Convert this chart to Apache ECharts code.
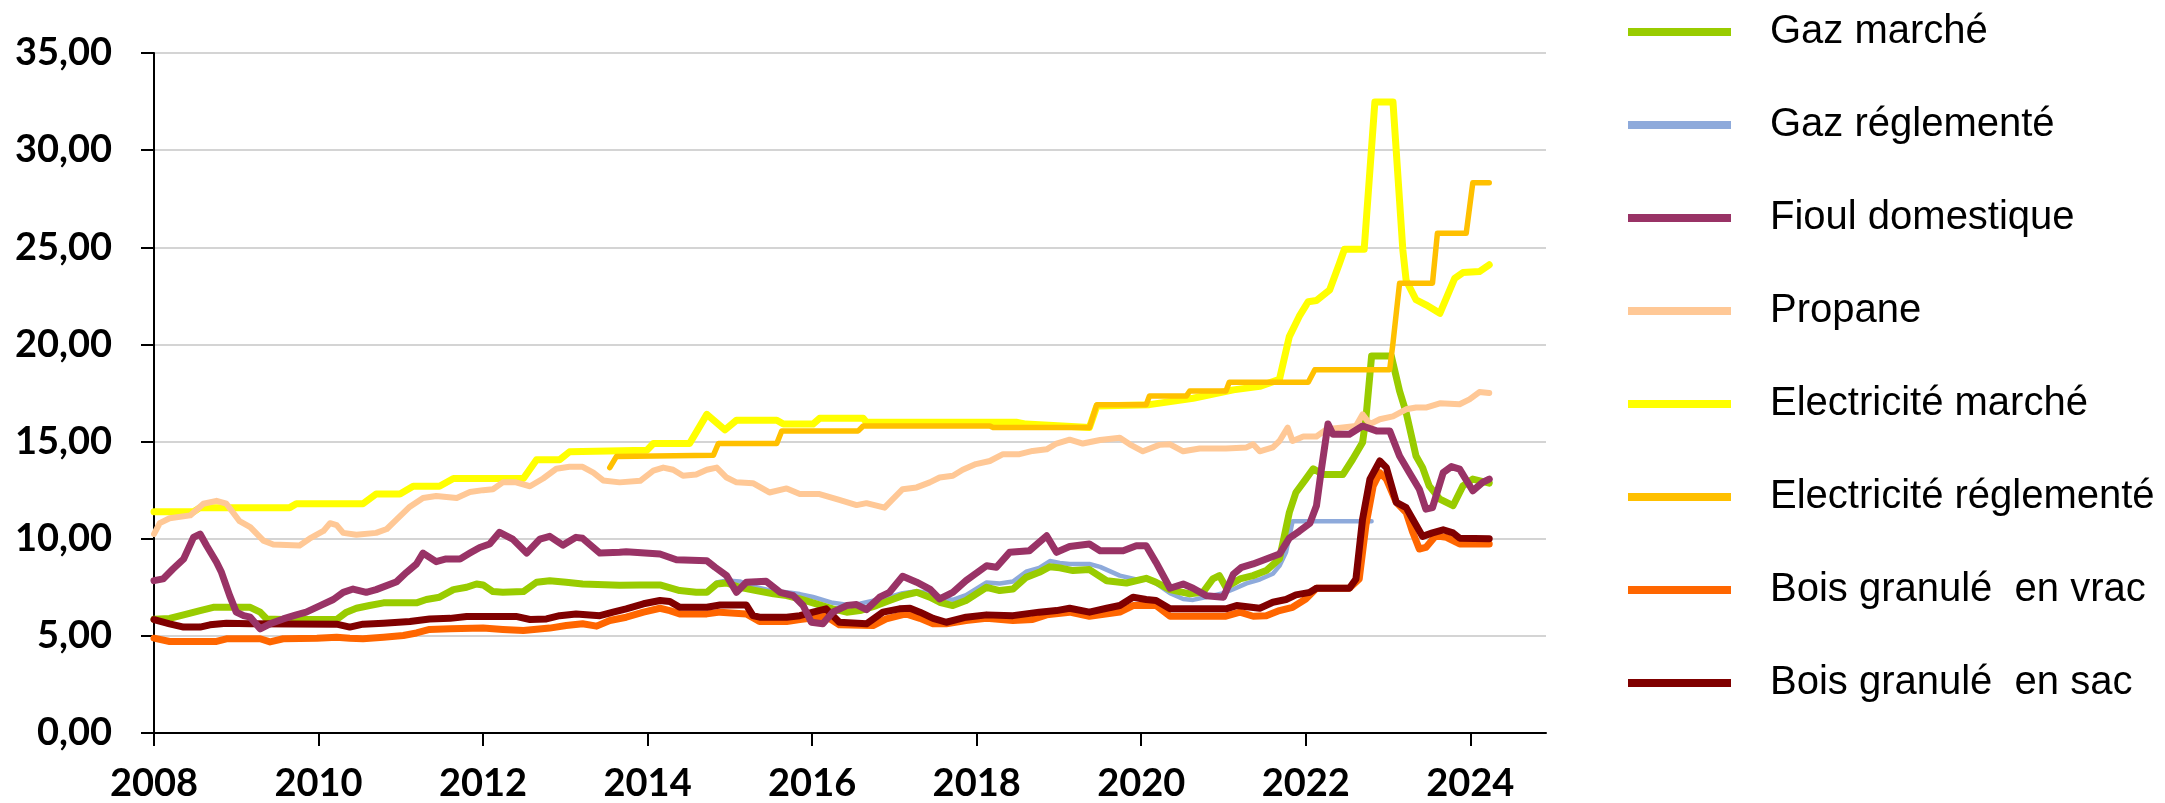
<!DOCTYPE html>
<html>
<head>
<meta charset="utf-8">
<script src="https://cdn.jsdelivr.net/npm/echarts@6/dist/echarts.min.js"></script>
<style>
  html, body { margin: 0; padding: 0; background: #fff; }
  #chart { width: 2165px; height: 803px; }
</style>
</head>
<body>
<div id="chart"></div>
<script>
// prix en fonction de la date (année décimale)
const yearTicks = [2008, 2010, 2012, 2014, 2016, 2018, 2020, 2022, 2024];

const gazMarche = [[2008.0,5.85],[2008.19,5.9],[2008.36,6.08],[2008.56,6.3],[2008.72,6.47],[2009.17,6.47],[2009.29,6.22],[2009.37,5.87],[2009.57,5.84],[2010.22,5.84],[2010.34,6.22],[2010.46,6.42],[2010.62,6.56],[2010.79,6.7],[2011.19,6.7],[2011.31,6.87],[2011.47,6.99],[2011.64,7.38],[2011.8,7.5],[2011.92,7.67],[2012.0,7.62],[2012.12,7.28],[2012.24,7.24],[2012.49,7.28],[2012.65,7.76],[2012.81,7.84],[2013.01,7.76],[2013.21,7.67],[2013.66,7.6],[2013.91,7.62],[2014.15,7.62],[2014.39,7.33],[2014.59,7.24],[2014.72,7.24],[2014.84,7.67],[2014.96,7.72],[2015.12,7.5],[2015.32,7.33],[2015.53,7.16],[2015.69,7.07],[2015.85,6.9],[2016.01,6.7],[2016.25,6.39],[2016.42,6.22],[2016.58,6.3],[2016.78,6.56],[2016.94,6.82],[2017.1,7.07],[2017.27,7.24],[2017.43,6.99],[2017.55,6.73],[2017.71,6.56],[2017.87,6.82],[2018.12,7.5],[2018.28,7.33],[2018.44,7.41],[2018.6,8.01],[2018.76,8.27],[2018.89,8.56],[2019.01,8.5],[2019.17,8.36],[2019.37,8.41],[2019.58,7.84],[2019.82,7.72],[2020.06,7.96],[2020.18,7.76],[2020.35,7.38],[2020.59,7.16],[2020.75,7.24],[2020.87,7.93],[2020.95,8.1],[2021.03,7.5],[2021.2,7.93],[2021.36,8.1],[2021.52,8.36],[2021.68,8.96],[2021.8,11.35],[2021.88,12.38],[2022.0,13.07],[2022.09,13.6],[2022.21,13.3],[2022.45,13.3],[2022.57,14.09],[2022.69,14.95],[2022.73,16.15],[2022.8,19.4],[2023.04,19.4],[2023.14,17.6],[2023.22,16.5],[2023.34,14.26],[2023.42,13.66],[2023.5,12.72],[2023.63,12.04],[2023.79,11.7],[2023.91,12.72],[2024.03,13.07],[2024.23,12.86]];

const gazReglemente = [[2008.0,5.85],[2008.19,5.9],[2008.36,6.08],[2008.56,6.3],[2008.72,6.47],[2009.17,6.47],[2009.29,6.22],[2009.37,5.87],[2009.57,5.84],[2010.22,5.84],[2010.34,6.22],[2010.46,6.42],[2010.62,6.56],[2010.79,6.7],[2011.19,6.7],[2011.31,6.87],[2011.47,6.99],[2011.64,7.38],[2011.8,7.5],[2011.92,7.67],[2012.0,7.62],[2012.12,7.28],[2012.24,7.24],[2012.49,7.28],[2012.65,7.76],[2012.81,7.84],[2013.01,7.78],[2013.21,7.7],[2013.66,7.62],[2013.91,7.62],[2014.15,7.6],[2014.39,7.35],[2014.59,7.25],[2014.72,7.3],[2014.84,7.75],[2014.96,7.85],[2015.12,7.8],[2015.32,7.5],[2015.53,7.3],[2015.69,7.25],[2015.85,7.15],[2016.01,7.0],[2016.25,6.7],[2016.42,6.6],[2016.58,6.65],[2016.78,6.85],[2016.94,7.0],[2017.1,7.2],[2017.27,7.3],[2017.43,7.2],[2017.55,7.0],[2017.71,6.85],[2017.87,7.1],[2018.12,7.75],[2018.28,7.7],[2018.44,7.8],[2018.6,8.3],[2018.76,8.5],[2018.89,8.85],[2019.01,8.75],[2019.13,8.7],[2019.37,8.7],[2019.5,8.55],[2019.74,8.1],[2019.94,7.9],[2020.06,7.95],[2020.18,7.7],[2020.35,7.2],[2020.51,6.9],[2020.63,6.85],[2020.79,7.0],[2021.0,7.2],[2021.12,7.4],[2021.28,7.7],[2021.44,7.9],[2021.6,8.2],[2021.68,8.6],[2021.76,9.3],[2021.84,10.9],[2022.8,10.9]];

const fioulDomestique = [[2008.0,7.84],[2008.11,7.93],[2008.23,8.44],[2008.36,8.96],[2008.48,10.07],[2008.56,10.24],[2008.64,9.64],[2008.76,8.79],[2008.82,8.27],[2008.92,7.07],[2009.0,6.22],[2009.09,6.04],[2009.17,5.96],[2009.29,5.36],[2009.41,5.62],[2009.57,5.87],[2009.73,6.08],[2009.85,6.22],[2010.02,6.56],[2010.18,6.87],[2010.3,7.24],[2010.42,7.41],[2010.58,7.24],[2010.7,7.38],[2010.95,7.79],[2011.07,8.27],[2011.19,8.7],[2011.27,9.26],[2011.43,8.82],[2011.55,8.96],[2011.72,8.96],[2011.84,9.26],[2011.96,9.55],[2012.08,9.73],[2012.2,10.33],[2012.36,9.98],[2012.53,9.26],[2012.69,9.98],[2012.81,10.12],[2012.97,9.67],[2013.13,10.07],[2013.21,10.02],[2013.42,9.26],[2013.66,9.3],[2013.74,9.33],[2014.15,9.21],[2014.35,8.92],[2014.72,8.87],[2014.82,8.53],[2014.96,8.1],[2015.08,7.24],[2015.2,7.76],[2015.44,7.81],[2015.61,7.24],[2015.77,7.07],[2015.89,6.56],[2015.99,5.7],[2016.13,5.62],[2016.25,6.22],[2016.42,6.56],[2016.54,6.61],[2016.66,6.35],[2016.82,6.99],[2016.94,7.24],[2017.1,8.07],[2017.27,7.76],[2017.43,7.41],[2017.55,6.9],[2017.71,7.24],[2017.87,7.84],[2018.12,8.61],[2018.24,8.53],[2018.4,9.3],[2018.64,9.38],[2018.85,10.15],[2018.97,9.3],[2019.13,9.6],[2019.37,9.73],[2019.5,9.38],[2019.78,9.38],[2019.94,9.64],[2020.06,9.64],[2020.18,8.78],[2020.35,7.45],[2020.51,7.67],[2020.63,7.45],[2020.79,7.07],[2021.0,6.99],[2021.12,8.18],[2021.22,8.53],[2021.36,8.7],[2021.52,8.96],[2021.68,9.21],[2021.8,10.03],[2021.92,10.38],[2022.05,10.8],[2022.13,11.7],[2022.19,13.58],[2022.27,15.9],[2022.33,15.38],[2022.53,15.38],[2022.69,15.8],[2022.86,15.55],[2023.02,15.55],[2023.14,14.26],[2023.26,13.4],[2023.38,12.55],[2023.46,11.52],[2023.54,11.6],[2023.67,13.4],[2023.77,13.71],[2023.87,13.58],[2024.03,12.47],[2024.15,12.9],[2024.23,13.07]];

const propane = [[2008.0,10.24],[2008.07,10.8],[2008.19,11.05],[2008.44,11.2],[2008.6,11.8],[2008.76,11.95],[2008.88,11.8],[2009.04,10.9],[2009.17,10.6],[2009.33,9.9],[2009.45,9.7],[2009.77,9.65],[2009.89,10.0],[2010.06,10.4],[2010.14,10.8],[2010.22,10.7],[2010.3,10.3],[2010.46,10.2],[2010.7,10.3],[2010.83,10.5],[2010.95,11.0],[2011.11,11.65],[2011.27,12.1],[2011.43,12.2],[2011.68,12.1],[2011.84,12.4],[2012.0,12.5],[2012.12,12.55],[2012.24,12.9],[2012.4,12.9],[2012.57,12.7],[2012.73,13.1],[2012.89,13.6],[2013.05,13.7],[2013.21,13.7],[2013.34,13.4],[2013.46,13.0],[2013.66,12.9],[2013.91,12.98],[2014.07,13.5],[2014.19,13.66],[2014.31,13.55],[2014.43,13.24],[2014.59,13.3],[2014.72,13.55],[2014.84,13.66],[2014.96,13.15],[2015.08,12.9],[2015.28,12.86],[2015.48,12.38],[2015.69,12.59],[2015.85,12.3],[2016.09,12.3],[2016.33,12.0],[2016.54,11.73],[2016.66,11.83],[2016.88,11.6],[2016.98,12.04],[2017.1,12.55],[2017.27,12.64],[2017.43,12.9],[2017.55,13.15],[2017.71,13.24],[2017.83,13.55],[2017.99,13.84],[2018.16,14.0],[2018.32,14.35],[2018.52,14.35],[2018.68,14.52],[2018.85,14.6],[2018.97,14.9],[2019.13,15.1],[2019.29,14.9],[2019.5,15.08],[2019.74,15.2],[2019.86,14.86],[2020.02,14.5],[2020.22,14.83],[2020.35,14.86],[2020.51,14.5],[2020.71,14.64],[2021.03,14.64],[2021.28,14.7],[2021.36,14.86],[2021.44,14.5],[2021.6,14.7],[2021.68,15.03],[2021.78,15.72],[2021.84,15.03],[2021.97,15.26],[2022.13,15.26],[2022.25,15.63],[2022.45,15.72],[2022.61,15.8],[2022.69,16.4],[2022.78,15.9],[2022.9,16.15],[2023.06,16.3],[2023.22,16.66],[2023.34,16.75],[2023.46,16.75],[2023.63,16.97],[2023.87,16.92],[2023.99,17.17],[2024.11,17.55],[2024.23,17.5]];

const elecMarche = [[2008.0,11.39],[2008.48,11.39],[2008.56,11.6],[2009.65,11.6],[2009.73,11.8],[2010.54,11.8],[2010.7,12.3],[2010.99,12.3],[2011.15,12.7],[2011.47,12.7],[2011.64,13.1],[2012.49,13.1],[2012.65,14.06],[2012.93,14.06],[2013.05,14.47],[2013.99,14.55],[2014.07,14.9],[2014.51,14.9],[2014.72,16.4],[2014.94,15.6],[2015.08,16.1],[2015.57,16.1],[2015.65,15.9],[2016.01,15.9],[2016.09,16.2],[2016.62,16.2],[2016.66,16.0],[2018.48,16.0],[2018.6,15.9],[2019.37,15.72],[2019.46,16.83],[2020.1,16.9],[2020.63,17.23],[2021.12,17.66],[2021.44,17.84],[2021.68,18.2],[2021.8,20.4],[2021.92,21.44],[2022.03,22.2],[2022.13,22.26],[2022.29,22.8],[2022.41,24.18],[2022.47,24.9],[2022.71,24.9],[2022.84,32.48],[2023.06,32.48],[2023.18,24.86],[2023.22,23.3],[2023.34,22.3],[2023.46,22.04],[2023.63,21.6],[2023.81,23.4],[2023.91,23.7],[2024.11,23.75],[2024.23,24.1]];

const elecReglemente = [[2013.54,13.66],[2013.62,14.23],[2014.8,14.3],[2014.86,14.9],[2015.57,14.9],[2015.63,15.55],[2016.56,15.55],[2016.62,15.8],[2018.16,15.8],[2018.2,15.72],[2019.37,15.72],[2019.46,16.9],[2020.06,16.9],[2020.1,17.35],[2020.55,17.35],[2020.59,17.6],[2021.03,17.6],[2021.07,18.05],[2022.03,18.05],[2022.11,18.7],[2023.02,18.7],[2023.06,20.07],[2023.14,23.15],[2023.54,23.15],[2023.6,25.72],[2023.95,25.72],[2024.03,28.32],[2024.23,28.32]];

const boisVrac = [[2008.0,4.88],[2008.19,4.71],[2008.76,4.71],[2008.88,4.85],[2009.29,4.85],[2009.41,4.69],[2009.57,4.85],[2009.98,4.88],[2010.22,4.93],[2010.38,4.88],[2010.54,4.85],[2010.79,4.93],[2011.03,5.02],[2011.19,5.15],[2011.35,5.33],[2011.6,5.36],[2012.0,5.4],[2012.24,5.33],[2012.49,5.28],[2012.81,5.4],[2013.01,5.53],[2013.21,5.62],[2013.38,5.5],[2013.54,5.79],[2013.74,5.96],[2013.95,6.22],[2014.15,6.42],[2014.27,6.3],[2014.39,6.13],[2014.72,6.13],[2014.88,6.22],[2015.2,6.13],[2015.36,5.74],[2015.69,5.74],[2015.85,5.84],[2016.17,6.01],[2016.33,5.57],[2016.74,5.53],[2016.9,5.87],[2017.14,6.13],[2017.31,5.9],[2017.47,5.62],[2017.63,5.62],[2017.87,5.79],[2018.12,5.9],[2018.44,5.79],[2018.68,5.84],[2018.85,6.08],[2019.13,6.22],[2019.37,6.01],[2019.74,6.22],[2019.9,6.56],[2020.18,6.56],[2020.35,6.01],[2021.03,6.01],[2021.2,6.22],[2021.36,6.01],[2021.52,6.03],[2021.68,6.3],[2021.84,6.47],[2022.0,6.9],[2022.13,7.45],[2022.53,7.45],[2022.65,7.93],[2022.73,10.67],[2022.82,12.72],[2022.9,13.4],[2022.98,13.07],[2023.1,11.87],[2023.22,11.35],[2023.3,10.33],[2023.38,9.47],[2023.46,9.55],[2023.58,10.15],[2023.71,10.07],[2023.87,9.73],[2024.23,9.73]];

const boisSac = [[2008.0,5.84],[2008.19,5.62],[2008.36,5.45],[2008.56,5.45],[2008.68,5.57],[2008.88,5.65],[2009.17,5.62],[2010.22,5.6],[2010.38,5.45],[2010.54,5.6],[2010.79,5.65],[2011.11,5.74],[2011.35,5.87],[2011.6,5.9],[2011.8,6.0],[2012.4,6.0],[2012.57,5.84],[2012.77,5.87],[2012.93,6.04],[2013.13,6.13],[2013.42,6.04],[2013.58,6.22],[2013.74,6.39],[2013.95,6.65],[2014.15,6.82],[2014.27,6.77],[2014.39,6.47],[2014.72,6.47],[2014.88,6.59],[2015.2,6.59],[2015.28,6.04],[2015.36,5.96],[2015.69,5.96],[2015.85,6.04],[2016.01,6.22],[2016.17,6.39],[2016.33,5.7],[2016.66,5.62],[2016.86,6.22],[2017.06,6.39],[2017.19,6.42],[2017.31,6.22],[2017.47,5.9],[2017.63,5.7],[2017.87,5.96],[2018.12,6.08],[2018.44,6.04],[2018.6,6.13],[2018.76,6.22],[2018.97,6.3],[2019.13,6.42],[2019.37,6.22],[2019.58,6.42],[2019.74,6.56],[2019.9,6.99],[2020.06,6.87],[2020.18,6.82],[2020.35,6.39],[2021.03,6.39],[2021.16,6.56],[2021.44,6.42],[2021.6,6.73],[2021.76,6.87],[2021.88,7.11],[2022.05,7.24],[2022.13,7.45],[2022.53,7.45],[2022.61,7.93],[2022.69,11.0],[2022.78,13.07],[2022.9,14.0],[2022.98,13.66],[2023.1,11.87],[2023.22,11.6],[2023.3,11.0],[2023.42,10.12],[2023.54,10.3],[2023.67,10.46],[2023.79,10.3],[2023.87,10.03],[2024.23,10.0]];

const legendNames = ['Gaz marché', 'Gaz réglementé', 'Fioul domestique', 'Propane',
  'Electricité marché', 'Electricité réglementé', 'Bois granulé  en vrac', 'Bois granulé  en sac'];

const chart = echarts.init(document.getElementById('chart'));

function ligne(name, data, color, width) {
  return {
    name: name,
    type: 'line',
    data: data,
    showSymbol: false,
    symbol: 'none',
    lineStyle: { color: color, width: width, join: 'round', cap: 'round' },
    itemStyle: { color: color }
  };
}

chart.setOption({
  animation: false,
  backgroundColor: '#fff',
  grid: { left: 154, right: 619, top: 53, bottom: 69 },
  legend: {
    orient: 'vertical',
    left: 1623,
    top: 4,
    icon: 'rect',
    itemWidth: 103,
    itemHeight: 8,
    itemGap: 47,
    textStyle: {
      fontFamily: 'Liberation Sans',
      fontSize: 40,
      color: '#000',
      lineHeight: 46,
      padding: [0, 0, 0, 34]
    },
    data: legendNames
  },
  xAxis: {
    type: 'value',
    min: 2008,
    max: 2024.92,
    interval: 2,
    splitLine: { show: false },
    axisLine: { lineStyle: { color: '#000', width: 2 } },
    axisTick: { show: true, length: 13, customValues: yearTicks, lineStyle: { color: '#000', width: 2 } },
    axisLabel: {
      customValues: yearTicks,
      margin: 32,
      fontFamily: 'Lato',
      fontWeight: 'bold',
      fontSize: 38,
      color: '#000',
      formatter: v => String(v)
    }
  },
  yAxis: {
    type: 'value',
    min: 0,
    max: 35,
    interval: 5,
    axisLine: { show: true, lineStyle: { color: '#000', width: 2 } },
    axisTick: { show: true, length: 13, lineStyle: { color: '#000', width: 2 } },
    splitLine: { lineStyle: { color: '#d4d4d4', width: 2 } },
    axisLabel: {
      margin: 42,
      fontFamily: 'Lato',
      fontWeight: 'bold',
      fontSize: 38,
      color: '#000',
      formatter: v => v.toFixed(2).replace('.', ',')
    }
  },
  series: [
    ligne('Gaz réglementé', gazReglemente, '#8EAADB', 4.5),
    ligne('Gaz marché', gazMarche, '#99CC00', 7),
    ligne('Electricité marché', elecMarche, '#FFFF00', 7),
    ligne('Electricité réglementé', elecReglemente, '#FFC000', 5.5),
    ligne('Propane', propane, '#FFC896', 6),
    ligne('Bois granulé  en vrac', boisVrac, '#FF6600', 7),
    ligne('Bois granulé  en sac', boisSac, '#800000', 7),
    ligne('Fioul domestique', fioulDomestique, '#993366', 7)
  ]
});
</script>
</body>
</html>
